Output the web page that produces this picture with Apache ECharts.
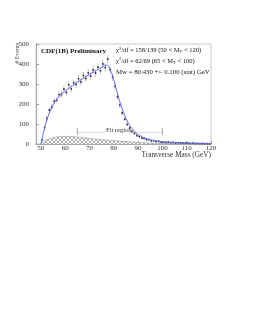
<!DOCTYPE html>
<html><head><meta charset="utf-8">
<script src="https://cdn.jsdelivr.net/npm/echarts@6/dist/echarts.min.js"></script>
<style>html,body{margin:0;padding:0;background:#fff}#c{width:253px;height:327px}</style>
</head><body><div id="c"></div>
<script>
// Data points (1 GeV bins, centres)
const binX = [50.5,51.5,52.5,53.5,54.5,55.5,56.5,57.5,58.5,59.5,60.5,61.5,62.5,63.5,64.5,65.5,66.5,67.5,68.5,69.5,70.5,71.5,72.5,73.5,74.5,75.5,76.5,77.5,78.5,79.5,80.5,81.5,82.5,83.5,84.5,85.5,86.5,87.5,88.5,89.5,90.5,91.5,92.5,93.5,94.5,95.5,96.5,97.5,98.5,99.5,100.5,101.5,102.5,103.5,104.5,105.5,106.5,107.5,108.5,109.5,110.5,111.5,112.5,113.5,114.5,115.5,116.5,117.5,118.5,119.5];
const events = [20,82,128,170,184,214,219,247,248,275,258,296,276,306,298,326,310,342,328,356,340,370,355,384,366,400,382,425,372,334,288,236,194,155,124,98,80,63,53,42,37,29,28,22,21,16,16,13,13,10,11,8,9,7,8,6,7,5,6,4,5,3,4,3,3,2,3,2,2,1];
const errors = [4,9,11,13,14,14,15,15,16,16,16,17,17,17,18,18,18,18,18,19,19,19,19,19,19,20,20,20,19,18,17,15,14,12,11,10,9,8,7,7,6,5,5,5,4,4,4,4,3,3,3,3,3,3,3,3,2,2,2,2,2,2,2,2,2,2,1,1,1,1];
// Fit curve
const fitX = [50,50.5,51,52,53,54,55,56,57,58,59,60,62,64,66,68,70,72,74,75,76,76.5,77,77.5,78,78.5,79,80,81,82,83,84,85,86,87,88,89,90,92,94,96,98,100,104,108,112,116,120];
const fitY = [0,25,52,100,140,170,195,214,230,243,255,265,283,300,317,333,348,362,376,384,391,394,395,392,385,372,358,322,276,232,192,158,128,104,85,70,58,48,34,25,19,15,12,8,6,4,3,2];
// Background (hatched)
const bgX = [50,51,52,54,56,58,60,62,64,66,68,70,72,74,76,78,80,85,90,95,100,105,110,115,120];
const bgY = [2,10,18,28,34,37,38,37,36,34,31,28,25,23,21,19,17,12,8,5,3,2,1,0.5,0];
// Axis ticks
const xTicks = [50,60,70,80,90,100,110,120];
// Fit region annotation
const fitRange = [65,100];
const fitLeftSeg = [65,76.5];
const fitRightSeg = [87,100];
const fitLevel = 58;
const bracketLow = 45, bracketHigh = 80;

const pat = document.createElement('canvas');
pat.width = 4; pat.height = 4;
const pc = pat.getContext('2d');
pc.fillStyle = '#fff'; pc.fillRect(0,0,4,4);
pc.strokeStyle = '#8a8a8a'; pc.lineWidth = 0.7;
pc.beginPath(); pc.moveTo(0,0); pc.lineTo(4,4); pc.moveTo(0,4); pc.lineTo(4,0); pc.stroke();

const serif = '"Liberation Serif", "DejaVu Serif", serif';
const chart = echarts.init(document.getElementById('c'), null, {renderer:'canvas'});

const bracketData = [];
fitRange.forEach(x => { bracketData.push([x, bracketLow]); bracketData.push([x, bracketHigh]); bracketData.push(null); });

chart.setOption({
  animation: false,
  backgroundColor: '#fff',
  grid: {left: 36, right: 42, top: 44, bottom: 183, show: true, borderColor: '#bbb', borderWidth: 0.8},
  xAxis: {
    type: 'value', min: 48, max: 120,
    axisLine: {lineStyle: {color: '#999', width: 0.8}},
    axisTick: {inside: true, length: 3, customValues: xTicks, lineStyle: {color: '#999'}},
    axisLabel: {customValues: xTicks, fontFamily: serif, fontSize: 7, color: '#333', margin: 1},
    splitLine: {show: false}
  },
  yAxis: {
    type: 'value', min: 0, max: 500, interval: 100,
    axisLine: {show: true, lineStyle: {color: '#999', width: 0.8}},
    axisTick: {show: true, inside: true, length: 3, lineStyle: {color: '#999'}},
    minorTick: {show: true, splitNumber: 5, length: 1.5, lineStyle: {color: '#bbb'}},
    axisLabel: {fontFamily: serif, fontSize: 7, color: '#333', margin: 7},
    splitLine: {show: false}
  },
  series: [
    {type: 'line', data: bgX.map((x,i)=>[x,bgY[i]]), smooth: true, symbol: 'none',
     lineStyle: {color: '#999', width: 0.6},
     areaStyle: {color: {image: pat, repeat: 'repeat'}, opacity: 1}, z: 1},
    {type: 'line', data: [[fitLeftSeg[0],fitLevel],[fitLeftSeg[1],fitLevel],null,[fitRightSeg[0],fitLevel],[fitRightSeg[1],fitLevel]],
     symbol: 'none', connectNulls: false, lineStyle: {color: '#888', width: 0.6, type: [1,1]}, z: 2},
    {type: 'line', data: bracketData, symbol: 'none', connectNulls: false, lineStyle: {color: '#888', width: 0.7}, z: 2},
    {type: 'custom', z: 3,
     data: binX.map((x,i)=>[x, events[i], errors[i]]),
     renderItem: function(params, api){
       const x = api.value(0), y = api.value(1), e = api.value(2);
       const a = api.coord([x, y - e]), b = api.coord([x, y + e]), c = api.coord([x, y]);
       return {type: 'group', children: [
         {type: 'line', shape: {x1: a[0], y1: a[1], x2: b[0], y2: b[1]}, style: {stroke: '#a0a0a0', lineWidth: 0.7}},
         {type: 'circle', shape: {cx: c[0], cy: c[1], r: 0.9}, style: {fill: '#222244'}}
       ]};
     }},
    {type: 'line', data: fitX.map((x,i)=>[x,fitY[i]]), smooth: 0.3, symbol: 'none',
     lineStyle: {color: '#6a6aee', width: 1}, z: 4}
  ],
  graphic: [
    {type: 'text', x: 17, y: 43, rotation: Math.PI/2, style: {text: '# Events', font: '6px ' + serif, fill: '#444', align: 'right', verticalAlign: 'middle'}},
    {type: 'text', x: 211, y: 155, style: {text: 'Transverse Mass (GeV)', font: '7.3px ' + serif, fill: '#333', align: 'right', verticalAlign: 'middle'}},
    {type: 'text', x: 41, y: 51.5, style: {text: 'CDF(1B) Preliminary', font: 'bold 7px ' + serif, fill: '#111', align: 'left', verticalAlign: 'middle'}},
    {type: 'text', x: 116, y: 50.5, style: {text: '{a|χ}{s|2}{a|/df = 158/139 (50 < M}{t|T}{a| < 120)}', align: 'left', verticalAlign: 'middle',
      rich: {a: {fontFamily: serif, fontSize: 6.5, fill: '#111'}, s: {fontFamily: serif, fontSize: 4.5, fill: '#111', padding: [0,0,4,0]}, t: {fontFamily: serif, fontSize: 4.5, fill: '#111', padding: [3,0,0,0]}}}},
    {type: 'text', x: 116, y: 61, style: {text: '{a|χ}{s|2}{a|/df = 62/69 (65 < M}{t|T}{a| < 100)}', align: 'left', verticalAlign: 'middle',
      rich: {a: {fontFamily: serif, fontSize: 6.5, fill: '#111'}, s: {fontFamily: serif, fontSize: 4.5, fill: '#111', padding: [0,0,4,0]}, t: {fontFamily: serif, fontSize: 4.5, fill: '#111', padding: [3,0,0,0]}}}},
    {type: 'text', x: 116, y: 72.5, style: {text: 'Mw = 80.430 +/- 0.100 (stat) GeV', font: '6.8px ' + serif, fill: '#111', align: 'left', verticalAlign: 'middle'}},
    {type: 'text', x: 106, y: 130, style: {text: 'Fit region', font: '6.5px ' + serif, fill: '#333', align: 'left', verticalAlign: 'middle'}}
  ]
});
</script></body></html>
